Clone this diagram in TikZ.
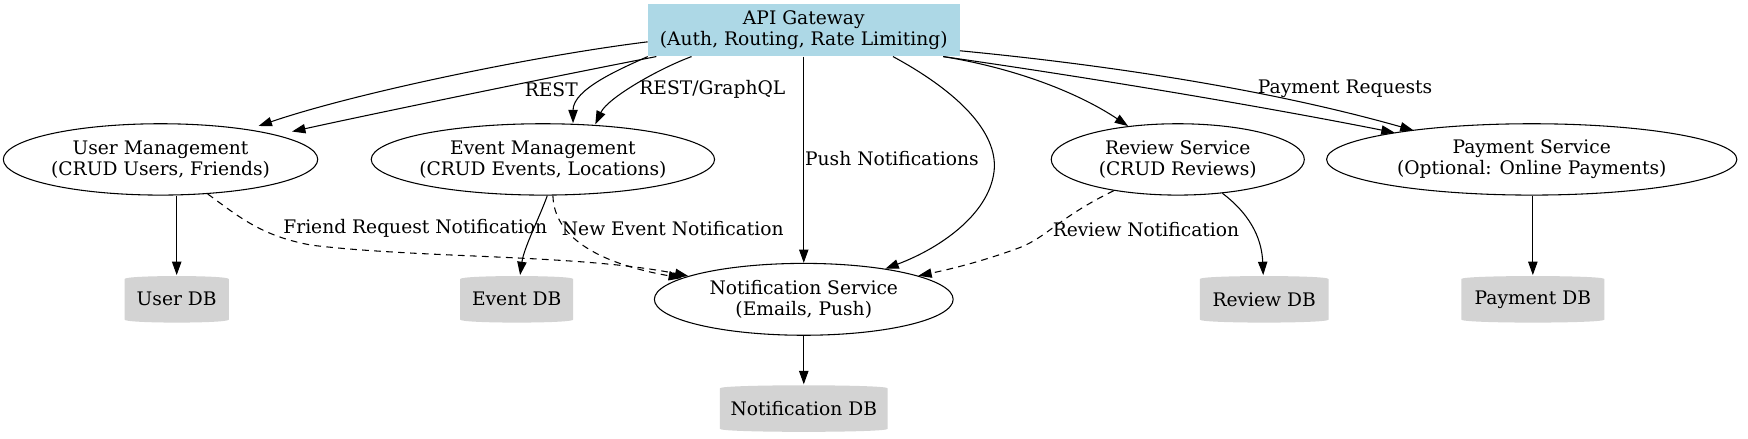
\documentclass[tikz,border=0pt]{standalone}
\usepackage{fontspec}
\setmainfont{DejaVu Serif}
\usetikzlibrary{arrows.meta,shapes.geometric,backgrounds}
\definecolor{gwblue}{HTML}{ADD8E6}
\definecolor{dbgray}{HTML}{D3D3D3}
\begin{document}
\begin{tikzpicture}[x=0.8361pt,y=-0.8361pt,
  every node/.style={font=\fontsize{14}{15.5}\selectfont},
  gwbox/.style={rectangle, fill=gwblue, draw=none, minimum width=233.7pt, minimum height=39.3pt, inner sep=0pt, align=center},
  svc/.style={ellipse, draw, line width=0.8pt, minimum height=53.5pt, inner sep=0pt},
  dbbox/.style={rectangle, minimum height=36pt, inner sep=0pt},
  lbl/.style={inner sep=0pt, align=center},
  edge/.style={line width=0.8pt, -{Triangle[length=10pt,width=7pt]}},
  dashededge/.style={edge, dash pattern=on 5pt off 4pt}]
\useasboundingbox (0,0) rectangle (1568,393);

% nodes
\node[gwbox] (gw) at (721,27) {API Gateway\\(Auth, Routing, Rate Limiting)};
\node[svc, minimum width=235.8pt, label={[lbl]center:{User Management\\(CRUD Users, Friends)}}] (um) at (144,143) {};
\node[svc, minimum width=257.5pt, label={[lbl]center:{Event Management\\(CRUD Events, Locations)}}] (em) at (487,143) {};
\node[svc, minimum width=189.8pt, label={[lbl]center:{Review Service\\(CRUD Reviews)}}] (rs) at (1056.5,143) {};
\node[svc, minimum width=307.7pt, label={[lbl]center:{Payment Service\\(Optional: Online Payments)}}] (ps) at (1374,143) {};
\node[svc, minimum width=224.1pt, minimum height=53.9pt, label={[lbl]center:{Notification Service\\(Emails, Push)}}] (ns) at (721,268.5) {};

\node[dbbox, minimum width=77.8pt] (udb) at (158.5,268.5) {User DB};
\node[dbbox, minimum width=84.4pt] (edb) at (463.5,268.5) {Event DB};
\node[dbbox, minimum width=96.2pt] (rdb) at (1134,268.5) {Review DB};
\node[dbbox, minimum width=107pt] (pdb) at (1375,268.5) {Payment DB};
\node[dbbox, minimum width=125.4pt] (ndb) at (721,366.5) {Notification DB};

\begin{pgfonlayer}{background}
\foreach \n in {udb,edb,rdb,pdb,ndb}{
  \fill[dbgray] ([yshift=-3pt]\n.north west) .. controls (\n.north west) and (\n.north east) .. ([yshift=-3pt]\n.north east)
    -- ([yshift=3pt]\n.south east) .. controls (\n.south east) and (\n.south west) .. ([yshift=3pt]\n.south west) -- cycle;
}
\end{pgfonlayer}

% edge labels
\node[lbl] (lrest) at (494.5,80.5) {REST};
\node[lbl] (lgql) at (639,80) {REST/GraphQL};
\node[lbl, anchor=west] (lpush) at (722,142) {Push Notifications};
\node[lbl] (lpay) at (1206.6,80) {Payment Requests};
\node[lbl] (lfriend) at (372.5,205) {Friend Request Notification};
\node[lbl] (lnew) at (603.5,205) {New Event Notification};
\node[lbl] (lrev) at (1028,206) {Review Notification};

% gateway edges
\draw[edge] ([yshift=-8.8pt]gw.west) .. controls (480,50) and (320,83) .. ([shift={(88,-30)}]um.center);
\draw[edge] ([xshift=6.5pt]gw.south west) .. controls (500,68) and (344,100) .. ([shift={(118,-25)}]um.center);
\draw[edge] (gw.south west) .. controls (556,62) and (514,80) .. ([xshift=22.6pt]em.north);
\draw[edge] ([xshift=32.9pt]gw.south west) .. controls (590,62) and (545,88) .. ([xshift=39.3pt,yshift=-0.8pt]em.north);
\draw[edge] (gw.south) -- (ns.north);
\draw[edge] ([xshift=66.9pt]gw.south) .. controls (855,80) and (893,115) .. (892,150) .. controls (890,190) and (845,222) .. (ns);
\draw[edge] ([xshift=104.5pt]gw.south) .. controls (915,62) and (970,85) .. (rs);
\draw[edge] ([xshift=104.5pt]gw.south) .. controls (980,70) and (1130,95) .. ([shift={(-123,-24)}]ps.center);
\draw[edge] ([yshift=-15.5pt]gw.east) .. controls (960,55) and (1120,75) .. ([shift={(-106,-26)}]ps.center);

% service to db
\draw[edge] (udb |- um.south) -- (udb);
\draw[edge] ([xshift=3.3pt]em.south) .. controls (484,195) and (470,222) .. (edb);
\draw[edge] (rs) .. controls (1125,195) and (1132,218) .. (rdb);
\draw[edge] (pdb |- ps.south) -- (pdb);
\draw[edge] (ns) -- (ndb);

% notifications
\draw[dashededge] (um) .. controls (215,195) and (235,212) .. (280,220) .. controls (380,232) and (520,228) .. (ns);
\draw[dashededge] ([xshift=7.5pt]em.south) .. controls (497,212) and (535,236) .. (ns);
\draw[dashededge] (rs) .. controls (950,195) and (940,212) .. (915,222) .. controls (880,235) and (850,242) .. (ns);
\end{tikzpicture}
\end{document}
